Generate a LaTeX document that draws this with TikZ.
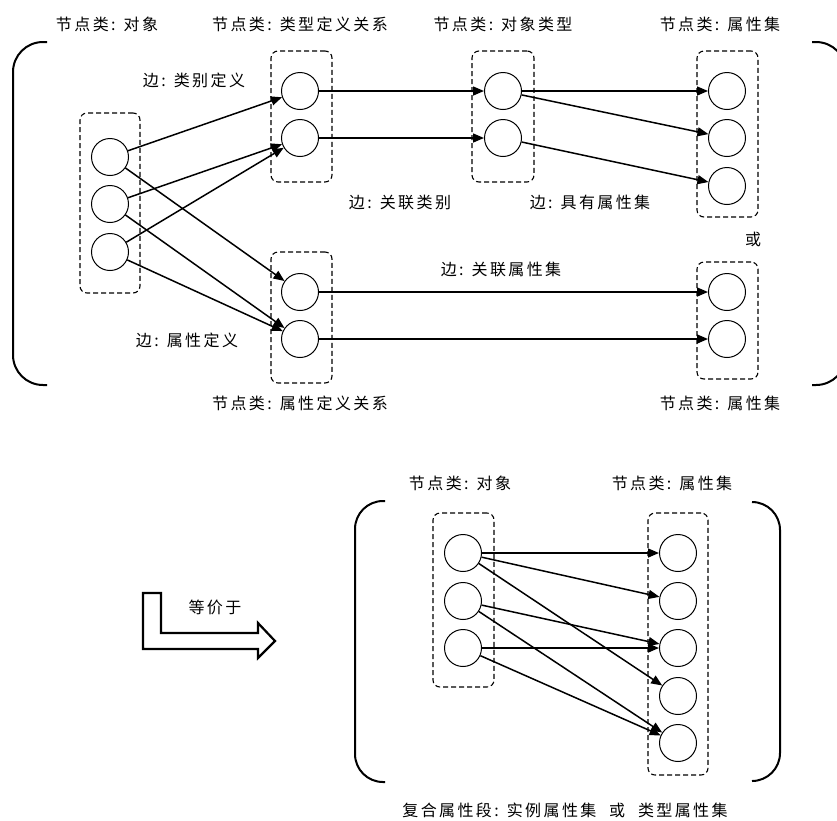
\documentclass[tikz,border=0pt]{standalone}
\usepackage{fontspec}
\setmainfont{Noto Sans CJK SC}[LetterSpace=15]
\usetikzlibrary{arrows.meta}
\begin{document}
\begin{tikzpicture}[x=1pt,y=-1pt,
  ball/.style={circle, draw, line width=1pt, minimum size=37pt, inner sep=0pt},
  grp/.style={draw, dash pattern=on 5pt off 3pt, rounded corners=7pt, line width=1.1pt, inner sep=0pt},
  lbl/.style={font=\fontsize{16}{18}\selectfont, inner sep=0pt},
  link/.style={line width=1.5pt, -{Triangle[length=11pt,width=9pt]}},
  brk/.style={line width=2pt, rounded corners=30pt},
  bigarrow/.style={line width=2.2pt, line join=miter}]
\useasboundingbox (0,0) rectangle (837,820);

% ---------- top part ----------
\draw[brk] (47,42) -- (13,42) -- (13,385) -- (47,385);
\draw[brk] (812,42) -- (846,42) -- (846,385) -- (812,385);

\node[grp, minimum width=60pt, minimum height=180pt] (gObj) at (110,203) {};
\node[grp, minimum width=61pt, minimum height=131pt] (gTd) at (301.5,116.5) {};
\node[grp, minimum width=61pt, minimum height=131pt] (gAd) at (301.5,317.5) {};
\node[grp, minimum width=62pt, minimum height=131pt] (gOt) at (503,116.5) {};
\node[grp, minimum width=61pt, minimum height=166pt] (gAs) at (727.5,134) {};
\node[grp, minimum width=61pt, minimum height=117pt] (gAs2) at (727.5,320.5) {};

\node[ball] (o1) at (110,157) {};
\node[ball] (o2) at (110,204) {};
\node[ball] (o3) at (110,252) {};
\node[ball] (t1) at (300,91) {};
\node[ball] (t2) at (300,138) {};
\node[ball] (a1) at (300,292) {};
\node[ball] (a2) at (300,339) {};
\node[ball] (y1) at (503,91) {};
\node[ball] (y2) at (503,138) {};
\node[ball] (s1) at (727,91) {};
\node[ball] (s2) at (727,138) {};
\node[ball] (s3) at (727,186) {};
\node[ball] (b1) at (727,292) {};
\node[ball] (b2) at (727,339) {};

\draw[link] (o1) -- (t1);
\draw[link] (o2) -- (t2);
\draw[link] (o3) -- (t2);
\draw[link] (o1) -- (a1);
\draw[link] (o2) -- (a2);
\draw[link] (o3) -- (a2);
\draw[link] (t1) -- (y1);
\draw[link] (t2) -- (y2);
\draw[link] (y1) -- (s1);
\draw[link] (y1) -- (s2);
\draw[link] (y2) -- (s3);
\draw[link] (a1) -- (b1);
\draw[link] (a2) -- (b2);

\node[lbl] (l1) at (107,24) {节点类: 对象};
\node[lbl] (l2) at (300,24) {节点类: 类型定义关系};
\node[lbl] (l3) at (503,24) {节点类: 对象类型};
\node[lbl] (l4) at (720,24) {节点类: 属性集};
\node[lbl] (l5) at (194,80) {边: 类别定义};
\node[lbl] (l6) at (400,202) {边: 关联类别};
\node[lbl] (l7) at (590,202) {边: 具有属性集};
\node[lbl] (l8) at (753,239) {或};
\node[lbl] (l9) at (501,269) {边: 关联属性集};
\node[lbl] (l10) at (187,340) {边: 属性定义};
\node[lbl] (l11) at (300,403) {节点类: 属性定义关系};
\node[lbl] (l12) at (720,403) {节点类: 属性集};

% ---------- equivalence arrow ----------
\draw[bigarrow] (143,593) -- (161,593) -- (161,633) -- (258,633) -- (258,623)
  -- (275,641) -- (258,658) -- (258,649) -- (143,649) -- cycle;
\node[lbl] (eq) at (215,607) {等价于};

% ---------- bottom part ----------
\draw[brk, rounded corners=28pt] (385,501) -- (355,501) -- (355,782) -- (385,782);
\draw[brk, rounded corners=28pt] (752,502) -- (780,502) -- (780,781) -- (752,781);

\node[grp, minimum width=61pt, minimum height=174pt] (hObj) at (463.5,600) {};
\node[grp, minimum width=60pt, minimum height=262pt] (hAs) at (678,644) {};

\node[ball] (p1) at (463,553) {};
\node[ball] (p2) at (463,601) {};
\node[ball] (p3) at (463,648) {};
\node[ball] (q1) at (678,553) {};
\node[ball] (q2) at (678,601) {};
\node[ball] (q3) at (678,648) {};
\node[ball] (q4) at (678,696) {};
\node[ball] (q5) at (678,743) {};

\draw[link] (p1) -- (q1);
\draw[link] (p1) -- (q2);
\draw[link] (p1) -- (q4);
\draw[link] (p2) -- (q3);
\draw[link] (p2) -- (q5);
\draw[link] (p3) -- (q3);
\draw[link] (p3) -- (q5);

\node[lbl] (m1) at (460,483) {节点类: 对象};
\node[lbl] (m2) at (672,483) {节点类: 属性集};
\node[lbl] (m3) at (565,810) {复合属性段: 实例属性集\hspace{0.8em}或\hspace{0.8em}类型属性集};
\end{tikzpicture}
\end{document}
